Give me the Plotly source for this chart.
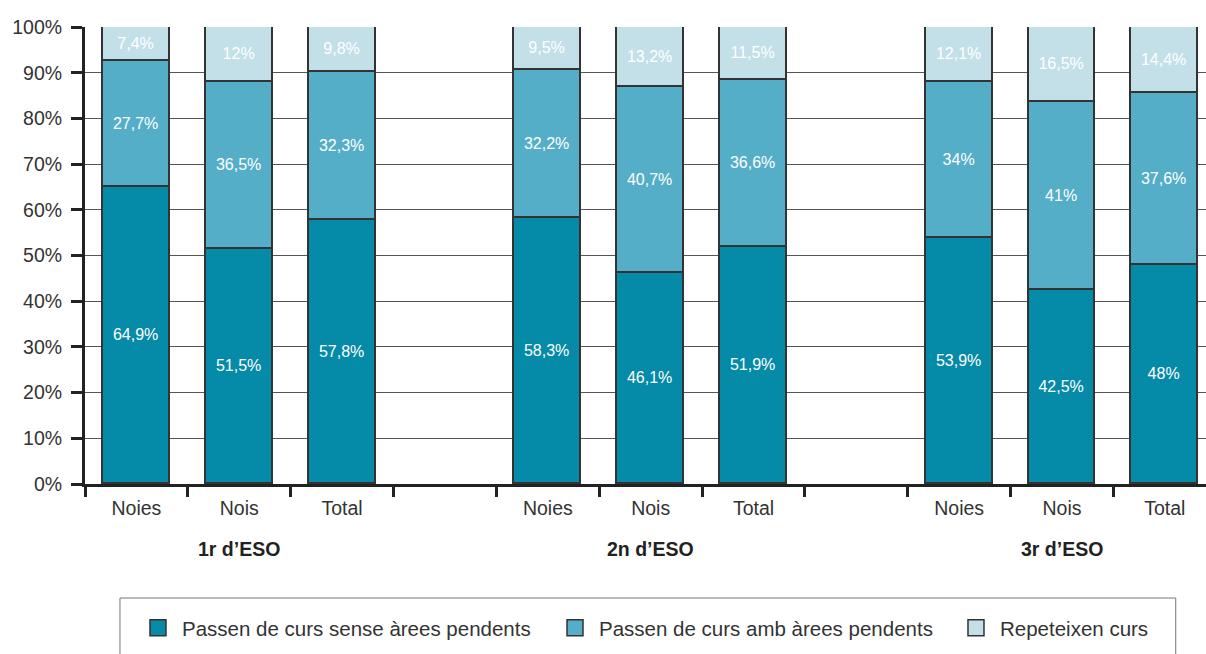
import plotly.graph_objects as go

categories = ["Noies", "Nois", "Total", "Noies", "Nois", "Total", "Noies", "Nois", "Total"]
positions = [0, 1, 2, 4, 5, 6, 8, 9, 10]
groups = ["1r d’ESO", "2n d’ESO", "3r d’ESO"]
group_centers = [1, 5, 9]

sense_arees = [64.9, 51.5, 57.8, 58.3, 46.1, 51.9, 53.9, 42.5, 48]
amb_arees = [27.7, 36.5, 32.3, 32.2, 40.7, 36.6, 34, 41, 37.6]
repeteixen = [7.4, 12, 9.8, 9.5, 13.2, 11.5, 12.1, 16.5, 14.4]

series = [
    ("Passen de curs sense àrees pendents", sense_arees, "#058aa8"),
    ("Passen de curs amb àrees pendents", amb_arees, "#55aec8"),
    ("Repeteixen curs", repeteixen, "#c3e0e8"),
]
legend_ids = ["legend", "legend2", "legend3"]
legend_x = [0.0437, 0.4157, 0.7734]

def fmt(v):
    s = ("%g" % v).replace(".", ",")
    return s + "%"

FONT = "Liberation Sans, Arial, Helvetica, sans-serif"
TXT = "#333333"

fig = go.Figure()
for name, vals, col in series:
    fig.add_trace(go.Bar(
        x=positions, y=vals, name=name, showlegend=False,
        marker=dict(color=col, line=dict(color="#333333", width=1.8)),
        width=0.65,
        text=[fmt(v) for v in vals], textposition="inside",
        insidetextanchor="middle", textangle=0,
        textfont=dict(color="white", size=16, family=FONT),
        hoverinfo="skip",
    ))
# legend entries with larger swatches, each in its own legend
for (name, vals, col), lid in zip(series, legend_ids):
    fig.add_trace(go.Scatter(
        x=[None], y=[None], mode="markers", name=name, legend=lid,
        marker=dict(symbol="square", size=24, color=col,
                    line=dict(color="#333333", width=1.5)),
    ))

for g, c in zip(groups, group_centers):
    fig.add_annotation(x=c, xref="x", y=-0.142, yref="paper", text="<b>" + g + "</b>",
                       showarrow=False, yanchor="middle",
                       font=dict(size=19.5, color="#222222", family=FONT))

# legend frame
fig.add_shape(type="rect", xref="paper", yref="paper",
              x0=0.0312, x1=0.973, y0=-0.2495, y1=-0.40,
              line=dict(color="#777777", width=1), fillcolor="rgba(0,0,0,0)")

legend_common = dict(orientation="h", xanchor="left", y=-0.315, yanchor="middle",
                     font=dict(size=20.5, color=TXT, family=FONT),
                     bgcolor="rgba(0,0,0,0)", itemwidth=38)

fig.update_layout(
    width=1206, height=654,
    barmode="stack", bargap=0,
    margin=dict(l=85, r=0, t=27, b=170),
    paper_bgcolor="white", plot_bgcolor="white",
    font=dict(family=FONT, color=TXT, size=19),
    uniformtext=dict(minsize=16, mode="show"),
    legend=dict(x=legend_x[0], **legend_common),
    legend2=dict(x=legend_x[1], **legend_common),
    legend3=dict(x=legend_x[2], **legend_common),
    xaxis=dict(
        range=[-0.5, 10.4], tickmode="array", tickvals=positions, ticktext=categories,
        ticks="outside", ticklen=5, tickcolor="rgba(0,0,0,0)", automargin=False,
        showline=True, linecolor="#222222", linewidth=3,
        showgrid=False, zeroline=False,
        tickfont=dict(size=19.5, color=TXT, family=FONT),
        minor=dict(tickmode="array", tickvals=[i - 0.5 for i in range(11)],
                   ticks="outside", ticklen=10, tickwidth=3, tickcolor="#222222",
                   showgrid=False),
    ),
    yaxis=dict(
        range=[0, 100], tickmode="array", tickvals=list(range(0, 101, 10)),
        ticktext=[f"{v}%" for v in range(0, 101, 10)], automargin=False,
        ticks="outside", ticklen=11, tickwidth=3, tickcolor="#222222",
        ticklabelstandoff=5,
        showline=True, linecolor="#222222", linewidth=3,
        showgrid=True, gridcolor="#555555", gridwidth=1, zeroline=False,
        tickfont=dict(size=19.5, color=TXT, family=FONT),
    ),
)

fig.write_html("out.html", config={"displayModeBar": False},
               post_script="document.body.style.margin='0';document.body.style.overflow='hidden';")
